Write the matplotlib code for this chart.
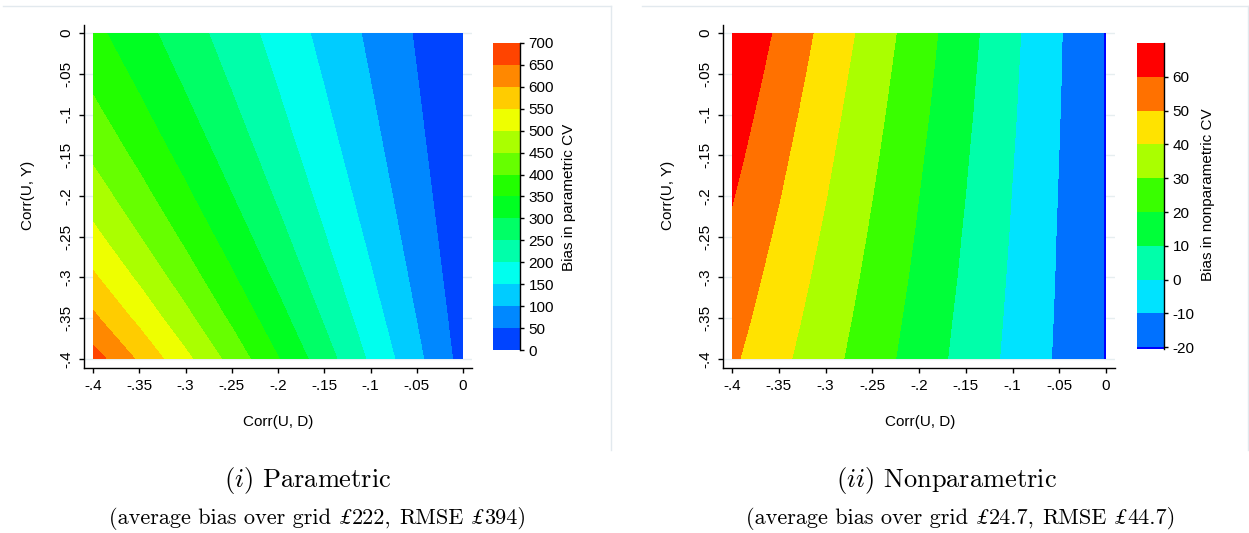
import numpy as np
import matplotlib
matplotlib.use("Agg")
import matplotlib.pyplot as plt
from matplotlib.colors import hsv_to_rgb
from matplotlib.lines import Line2D

plt.rcParams['font.family'] = ['Liberation Sans', 'DejaVu Sans']
plt.rcParams['mathtext.fontset'] = 'cm'

# ---------------- data ----------------
corr_ud = [-0.4, -0.35, -0.3, -0.25, -0.2, -0.15, -0.1, -0.05, 0.0]   # x grid
corr_uy = [0.0, -0.05, -0.1, -0.15, -0.2, -0.25, -0.3, -0.35, -0.4]   # y grid (rows)

bias_param = [
    [363.2, 317.8, 272.4, 227.0, 181.6, 136.2,  90.8,  45.4,  0.0],
    [386.4, 338.4, 290.4, 242.4, 194.4, 146.4,  98.4,  50.4,  2.4],
    [412.3, 361.4, 310.5, 259.6, 208.7, 157.8, 106.9,  56.0,  5.1],
    [441.6, 387.4, 333.2, 279.1, 224.9, 170.7, 116.5,  62.3,  8.1],
    [475.0, 417.1, 359.2, 301.2, 243.3, 185.4, 127.5,  69.5, 11.6],
    [513.4, 451.1, 388.9, 326.7, 264.5, 202.3, 140.0,  77.8, 15.6],
    [557.8, 490.6, 423.4, 356.2, 289.0, 221.8, 154.6,  87.4, 20.2],
    [609.9, 536.9, 463.8, 390.8, 317.8, 244.7, 171.7,  98.6, 25.6],
    [672.0, 592.0, 512.0, 432.0, 352.0, 272.0, 192.0, 112.0, 32.0],
]
bias_nonparam = [
    [69.5, 58.3, 47.0, 35.8, 24.5, 13.3,  2.0,  -9.3, -20.5],
    [67.3, 56.3, 45.3, 34.3, 23.4, 12.4,  1.4,  -9.5, -20.5],
    [65.0, 54.3, 43.6, 32.9, 22.3, 11.6,  0.9,  -9.8, -20.5],
    [62.8, 52.3, 41.9, 31.5, 21.1, 10.7,  0.3, -10.1, -20.5],
    [60.5, 50.4, 40.3, 30.1, 20.0,  9.9, -0.3, -10.4, -20.5],
    [58.3, 48.4, 38.6, 28.7, 18.9,  9.0, -0.8, -10.7, -20.5],
    [56.0, 46.4, 36.9, 27.3, 17.8,  8.2, -1.4, -10.9, -20.5],
    [53.8, 44.5, 35.2, 25.9, 16.6,  7.3, -1.9, -11.2, -20.5],
    [51.5, 42.5, 33.5, 24.5, 15.5,  6.5, -2.5, -11.5, -20.5],
]

xtick_vals = [-0.4, -0.35, -0.3, -0.25, -0.2, -0.15, -0.1, -0.05, 0.0]
xtick_labels = ['-.4', '-.35', '-.3', '-.25', '-.2', '-.15', '-.1', '-.05', '0']
ytick_vals = [0.0, -0.05, -0.1, -0.15, -0.2, -0.25, -0.3, -0.35, -0.4]
ytick_labels = ['0', '-.05', '-.1', '-.15', '-.2', '-.25', '-.3', '-.35', '-.4']

param_levels = [0, 50, 100, 150, 200, 250, 300, 350, 400, 450, 500, 550, 600, 650, 700]
nonparam_levels = [-20.5, -20, -10, 0, 10, 20, 30, 40, 50, 60, 70]
param_cbar_ticks = [0, 50, 100, 150, 200, 250, 300, 350, 400, 450, 500, 550, 600, 650, 700]
nonparam_cbar_ticks = [-20, -10, 0, 10, 20, 30, 40, 50, 60]

x_title = 'Corr(U, D)'
y_title = 'Corr(U, Y)'
cbar_titles = ['Bias in parametric CV', 'Bias in nonparametric CV']
panel_titles = [r'$(i)$ Parametric', r'$(ii)$ Nonparametric']
avg_bias = ['222', '24.7']
rmse_vals = ['394', '44.7']


def hue_colors(h0, h1, n):
    return [hsv_to_rgb(((h0 + (h1 - h0) * i / (n - 1)) / 360.0, 1.0, 1.0)) for i in range(n)]


param_colors = hue_colors(224, 16, 14)
nonparam_colors = hue_colors(240, 0, 10)

# ---------------- figure ----------------
W, H = 1249, 533
fig = plt.figure(figsize=(W / 100, H / 100), dpi=100)
fig.patch.set_facecolor('white')


def box(l, t, r, b):
    return [l / W, 1 - b / H, (r - l) / W, (b - t) / H]


def fx(x):
    return x / W


def fy(y):
    return 1 - y / H


FS = 11
panels = [
    dict(ax=(84, 25, 472, 368), pxu=925.0, cax=(493, 43, 520, 350), xl=(278, 422), yl=(28, 195),
         cl=(569, 197), cap=(308, 487), sub=(318, 524), frame=((3, 611), 611),
         Z=bias_param, levels=param_levels, colors=param_colors, cticks=param_cbar_ticks),
    dict(ax=(723, 25, 1115, 368), pxu=935.0, cax=(1137, 43, 1164, 349), xl=(920, 422), yl=(668, 195),
         cl=(1208, 195), cap=(946, 487), sub=(961, 524), frame=((642, 1249), 1248),
         Z=bias_nonparam, levels=nonparam_levels, colors=nonparam_colors, cticks=nonparam_cbar_ticks),
]

grid_col = '#e6eef0'
frame_col = '#e2e9ee'

for k, p in enumerate(panels):
    ax = fig.add_axes(box(*p['ax']))
    ax.set_facecolor('white')
    pad_x = 9.0 / p['pxu']
    ax.set_xlim(-0.4 - pad_x, 0 + pad_x)
    ax.set_ylim(-0.4 - 9.0 / 815.0, 8.0 / 815.0)
    for yv in ytick_vals:
        ax.axhline(yv, color=grid_col, lw=1.0, zorder=0)
    cs = ax.contourf(corr_ud, corr_uy, np.array(p['Z'], dtype=float),
                     levels=p['levels'], colors=p['colors'], zorder=1)
    for s in ('top', 'right'):
        ax.spines[s].set_visible(False)
    for s in ('left', 'bottom'):
        ax.spines[s].set_color('black')
        ax.spines[s].set_linewidth(1.0)
    ax.set_xticks(xtick_vals)
    ax.set_xticklabels(xtick_labels)
    ax.set_yticks(ytick_vals)
    ax.set_yticklabels(ytick_labels)
    ax.tick_params(direction='out', length=3.6, width=1.0, labelsize=FS, pad=4, colors='black')
    for lab in ax.get_yticklabels():
        lab.set_rotation(90)
        lab.set_va('center')
        lab.set_ha('right')

    fig.text(fx(p['xl'][0]), fy(p['xl'][1]), x_title, ha='center', va='center', fontsize=FS)
    fig.text(fx(p['yl'][0]), fy(p['yl'][1]), y_title, ha='center', va='center', fontsize=FS, rotation=90)

    cax = fig.add_axes(box(*p['cax']))
    cb = fig.colorbar(cs, cax=cax, ticks=p['cticks'], spacing='proportional')
    cb.outline.set_visible(False)
    cb.set_ticklabels([str(t) for t in p['cticks']])
    cax.tick_params(direction='out', length=3.2, width=1.0, labelsize=FS, pad=3, colors='black')
    cax.plot([1, 1], [0, 1], transform=cax.transAxes, color='black', lw=1.0, clip_on=False)
    fig.text(fx(p['cl'][0]), fy(p['cl'][1]), cbar_titles[k], ha='center', va='center',
             fontsize=FS, rotation=90)

    # light outer frame of each Stata graph
    (x0, x1), xr = p['frame']
    fig.add_artist(Line2D([fx(x0), fx(x1)], [fy(6), fy(6)], color=frame_col, lw=1.0))
    fig.add_artist(Line2D([fx(xr), fx(xr)], [fy(6), fy(450)], color=frame_col, lw=1.0))

    # caption
    fig.text(fx(p['cap'][0]), fy(p['cap'][1]), panel_titles[k], ha='center', va='baseline',
             fontsize=19, family='cmr10')
    p['pieces'] = [('(average bias over grid', 'rm'), ('', 'sp'), ('£', 'lb'), (avg_bias[k] + ',', 'rm'),
                   ('', 'sp'), ('RMSE', 'rm'), ('', 'sp'), ('£', 'lb'), (rmse_vals[k] + ')', 'rm')]

fig.canvas.draw()
renderer = fig.canvas.get_renderer()


def place_pieces(xc, yb, pieces, size):
    sp = 0.36 * size * 100 / 72
    items = []
    for s, kind in pieces:
        if kind == 'sp':
            items.append((None, sp))
            continue
        if kind == 'rm':
            kw = dict(family='cmr10')
        else:
            kw = dict(family='STIXGeneral', style='italic')
        t = fig.text(0, fy(yb), s, fontsize=size, va='baseline', ha='left', **kw)
        w = t.get_window_extent(renderer).width
        if kind == 'lb':
            w += 0.06 * size * 100 / 72
        items.append((t, w))
    total = sum(w for _, w in items)
    x = xc - total / 2
    for t, w in items:
        if t is not None:
            t.set_x(fx(x))
        x += w


for p in panels:
    place_pieces(p['sub'][0], p['sub'][1], p['pieces'], 16)

fig.savefig('out.png', dpi=100, facecolor='white')
